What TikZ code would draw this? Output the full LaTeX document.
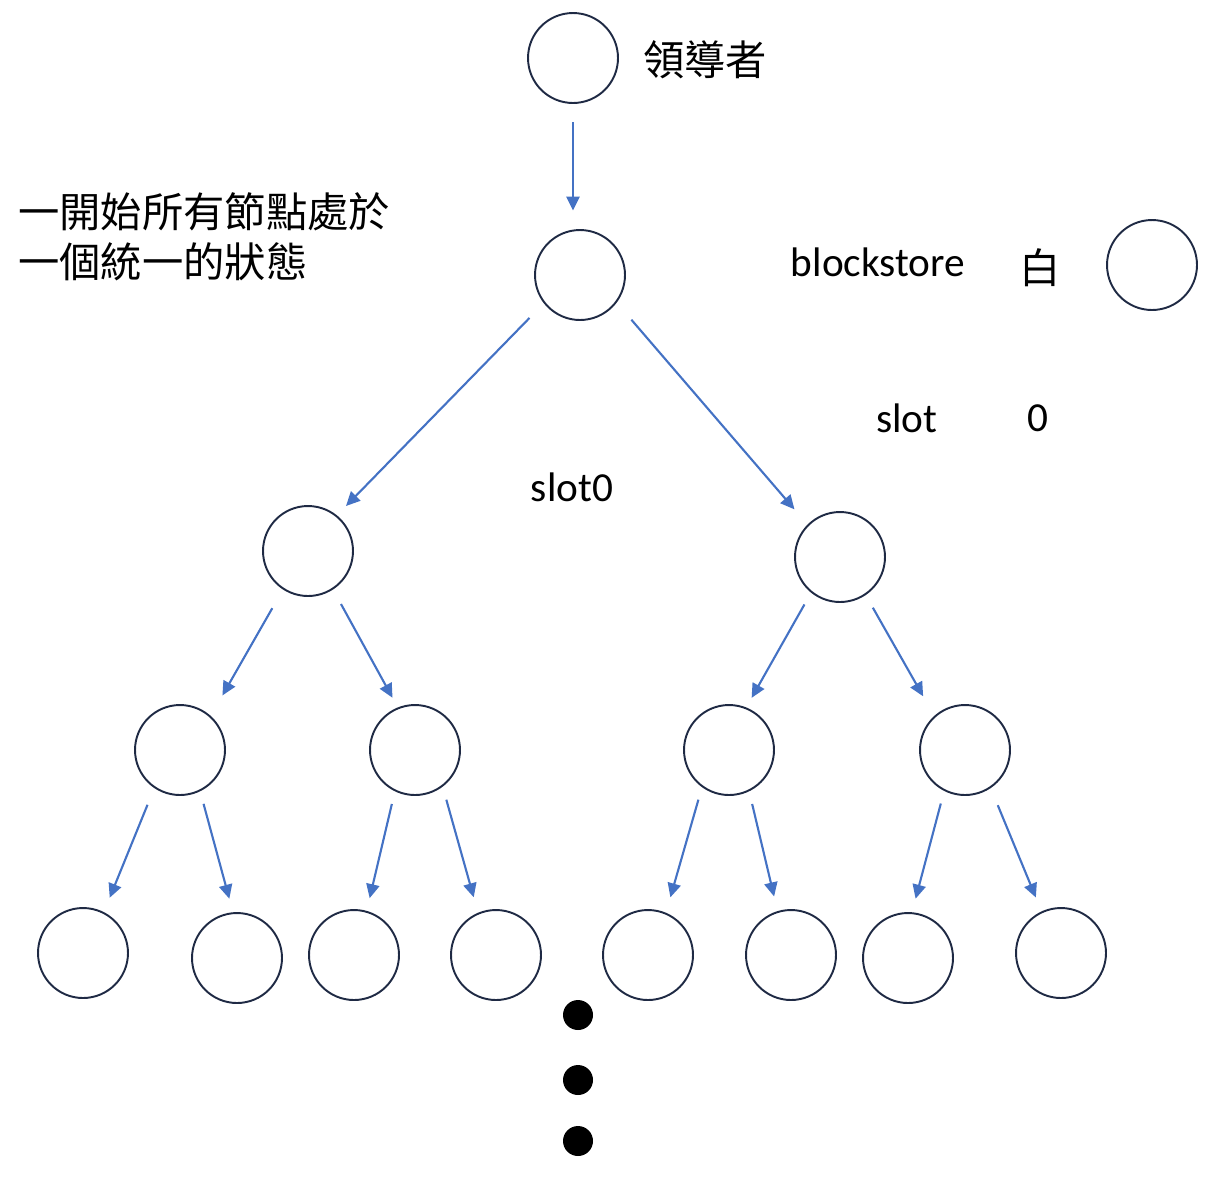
\documentclass[tikz,border=0pt]{standalone}
\usepackage{fontspec}
\setmainfont{Carlito}
\newfontfamily\cjk{Noto Sans CJK TC}
\usetikzlibrary{arrows.meta}
\definecolor{ringcol}{RGB}{31,42,68}
\definecolor{arrowcol}{RGB}{68,114,196}

\begin{document}
\begin{tikzpicture}[
    x=0.02cm, y=-0.02cm,
    nd/.style={draw=ringcol, line width=1.1pt, circle, minimum size=1.8cm, inner sep=0pt},
    dotnd/.style={circle, fill=black, minimum size=0.6cm, inner sep=0pt},
    arrow/.style={-{Triangle[length=8pt, width=7.5pt]}, draw=arrowcol, fill=arrowcol,
                  line width=1.2pt},
    lbl/.style={font=\fontsize{23.5}{28}\selectfont, inner sep=0pt},
    cjklbl/.style={font=\cjk\fontsize{23.5}{28}\selectfont, inner sep=0pt},
]
\useasboundingbox (0,0) rectangle (1220,1198);

% leader and root
\node[nd] (leader) at (573,58)  {};
\node[nd] (root)   at (580,275) {};
\node[cjklbl] (ldtxt) at (705,60) {領導者};

% first level
\node[nd] (a) at (308,551) {};
\node[nd] (b) at (840,557) {};

% second level
\node[nd] (aa) at (180,750) {};
\node[nd] (ab) at (415,750) {};
\node[nd] (ba) at (729,750) {};
\node[nd] (bb) at (965,750) {};

% third level
\node[nd] (aaa) at (83,953)   {};
\node[nd] (aab) at (237,958)  {};
\node[nd] (aba) at (354,955)  {};
\node[nd] (abb) at (496,955)  {};
\node[nd] (baa) at (648,955)  {};
\node[nd] (bab) at (791,955)  {};
\node[nd] (bba) at (908,958)  {};
\node[nd] (bbb) at (1061,953) {};

% legend
\node[nd] (legend) at (1152,265) {};
\node[lbl] (bstxt) at (878,262) {blockstore};
\node[cjklbl] (white) at (1040,268) {白};
\node[lbl] (slottxt) at (907,418) {slot};
\node[lbl] (zero) at (1038,418) {0};
\node[lbl] (slot0) at (572,487) {slot0};

% description
\node[cjklbl, anchor=west] (desc1) at (18,212) {一開始所有節點處於};
\node[cjklbl, anchor=west] (desc2) at (18,262) {一個統一的狀態};

% continuation dots
\node[dotnd] (d1) at (578,1015) {};
\node[dotnd] (d2) at (578,1080) {};
\node[dotnd] (d3) at (578,1141) {};

\draw[arrow, shorten <=0.37cm, shorten >=0.37cm] (leader.south) -- (leader.south |- root.north);
\draw[arrow, shorten <=0.41cm, shorten >=0.26cm] (root.-142) -- (a.51);
\draw[arrow, shorten <=0.45cm, shorten >=0.40cm] (root.-37) -- (b.135);
\draw[arrow, shorten <=0.43cm, shorten >=0.47cm] (a.-123) -- (aa.48);
\draw[arrow, shorten <=0.33cm, shorten >=0.22cm] (a.-57) -- (ab.112);
\draw[arrow, shorten <=0.27cm, shorten >=0.22cm] (b.-129) -- (ba.68);
\draw[arrow, shorten <=0.29cm, shorten >=0.45cm] (b.-56) -- (bb.132);
\draw[arrow, shorten <=0.36cm, shorten >=0.31cm] (aa.-124) -- (aaa.63);
\draw[arrow, shorten <=0.26cm, shorten >=0.28cm] (aa.-64) -- (aab.95);
\draw[arrow, shorten <=0.26cm, shorten >=0.26cm] (ab.-116) -- (aba.74);
\draw[arrow, shorten <=0.27cm, shorten >=0.32cm] (ab.-53) -- (abb.113);
\draw[arrow, shorten <=0.26cm, shorten >=0.32cm] (ba.-126) -- (baa.67);
\draw[arrow, shorten <=0.26cm, shorten >=0.30cm] (ba.-64) -- (bab.107);
\draw[arrow, shorten <=0.26cm, shorten >=0.28cm] (bb.-117) -- (bba.85);
\draw[arrow, shorten <=0.37cm, shorten >=0.30cm] (bb.-56) -- (bbb.115);
\end{tikzpicture}
\end{document}
